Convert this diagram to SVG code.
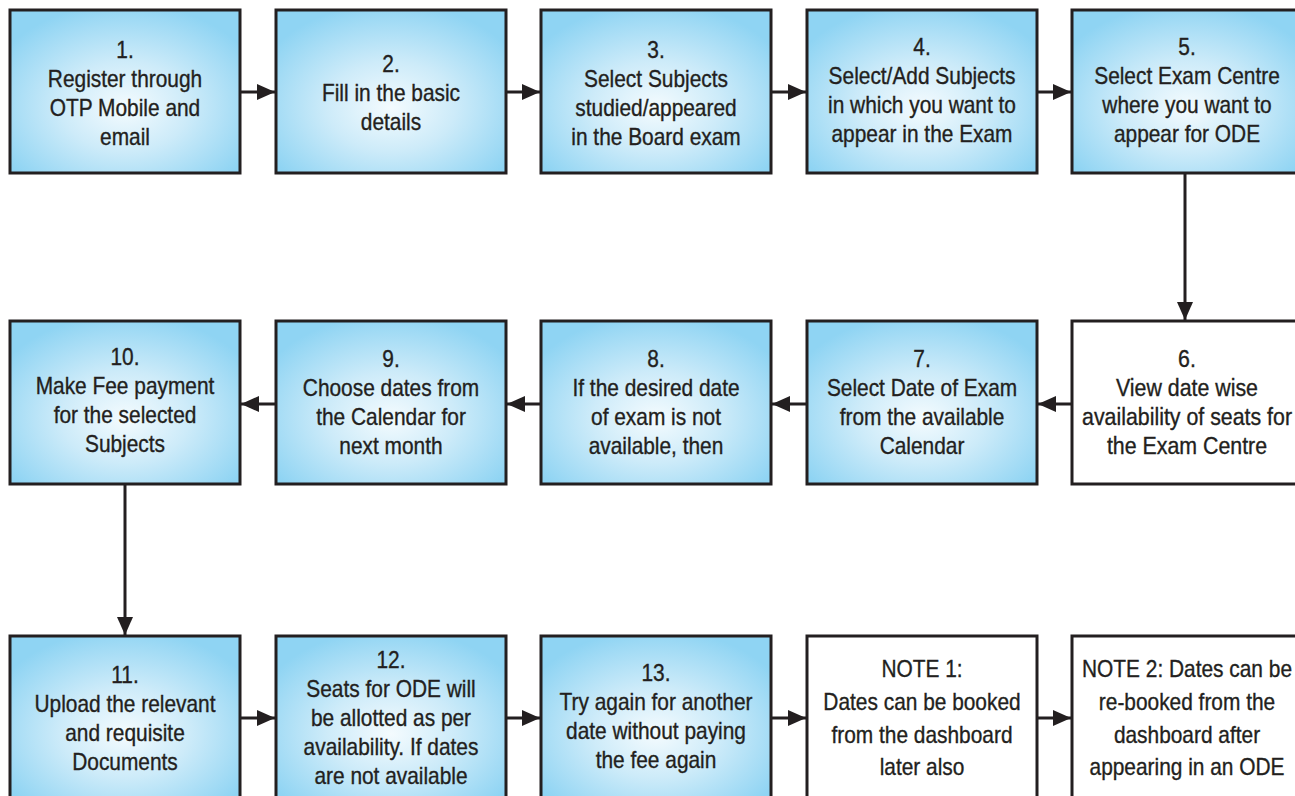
<svg xmlns="http://www.w3.org/2000/svg" width="1295" height="796" viewBox="0 0 1295 796">
  <defs>
    <radialGradient id="blue" cx="0.5" cy="0.58" r="0.62" fx="0.5" fy="0.6">
      <stop offset="0" stop-color="#f4fbfe"/>
      <stop offset="0.45" stop-color="#cdebf9"/>
      <stop offset="1" stop-color="#8fd4f3"/>
    </radialGradient>
    <marker id="ah" markerUnits="userSpaceOnUse" markerWidth="18" markerHeight="16" viewBox="0 0 18 16" refX="18" refY="8" orient="auto">
      <path d="M0,0 L18,8 L0,16 z" fill="#231f20"/>
    </marker>
  </defs>
  <style>
    .b { fill: url(#blue); stroke: #231f20; stroke-width: 3; }
    .w { fill: #ffffff; stroke: #231f20; stroke-width: 3; }
    text { font-family: "Liberation Sans", Arial, sans-serif; font-size: 24px; fill: #231f20; stroke: #231f20; stroke-width: 0.35; text-anchor: middle; }
    .c line { stroke: #231f20; stroke-width: 3; marker-end: url(#ah); }
  </style>
  <rect width="1295" height="796" fill="#ffffff"/>

  <g id="n1">
    <rect class="b" x="10" y="10" width="230" height="163"/>
    <g transform="translate(125,0) scale(0.87,1)"><text><tspan x="0" y="58">1.</tspan><tspan x="0" y="87">Register through</tspan><tspan x="0" y="116">OTP Mobile and</tspan><tspan x="0" y="145">email</tspan></text></g>
  </g>
  <g id="n2">
    <rect class="b" x="276" y="10" width="230" height="163"/>
    <g transform="translate(391,0) scale(0.87,1)"><text><tspan x="0" y="72">2.</tspan><tspan x="0" y="101">Fill in the basic</tspan><tspan x="0" y="130">details</tspan></text></g>
  </g>
  <g id="n3">
    <rect class="b" x="541" y="10" width="230" height="163"/>
    <g transform="translate(656,0) scale(0.87,1)"><text><tspan x="0" y="58">3.</tspan><tspan x="0" y="87">Select Subjects</tspan><tspan x="0" y="116">studied/appeared</tspan><tspan x="0" y="145">in the Board exam</tspan></text></g>
  </g>
  <g id="n4">
    <rect class="b" x="807" y="10" width="230" height="163"/>
    <g transform="translate(922,0) scale(0.87,1)"><text><tspan x="0" y="55">4.</tspan><tspan x="0" y="84">Select/Add Subjects</tspan><tspan x="0" y="113">in which you want to</tspan><tspan x="0" y="142">appear in the Exam</tspan></text></g>
  </g>
  <g id="n5">
    <rect class="b" x="1072" y="10" width="230" height="163"/>
    <g transform="translate(1187,0) scale(0.87,1)"><text><tspan x="0" y="55">5.</tspan><tspan x="0" y="84">Select Exam Centre</tspan><tspan x="0" y="113">where you want to</tspan><tspan x="0" y="142">appear for ODE</tspan></text></g>
  </g>

  <g id="n6">
    <rect class="w" x="1072" y="321" width="230" height="163"/>
    <g transform="translate(1187,0) scale(0.89,1)"><text><tspan x="0" y="367">6.</tspan><tspan x="0" y="396">View date wise</tspan><tspan x="0" y="425">availability of seats for</tspan><tspan x="0" y="454">the Exam Centre</tspan></text></g>
  </g>
  <g id="n7">
    <rect class="b" x="807" y="321" width="230" height="163"/>
    <g transform="translate(922,0) scale(0.87,1)"><text><tspan x="0" y="367">7.</tspan><tspan x="0" y="396">Select Date of Exam</tspan><tspan x="0" y="425">from the available</tspan><tspan x="0" y="454">Calendar</tspan></text></g>
  </g>
  <g id="n8">
    <rect class="b" x="541" y="321" width="230" height="163"/>
    <g transform="translate(656,0) scale(0.87,1)"><text><tspan x="0" y="367">8.</tspan><tspan x="0" y="396">If the desired date</tspan><tspan x="0" y="425">of exam is not</tspan><tspan x="0" y="454">available, then</tspan></text></g>
  </g>
  <g id="n9">
    <rect class="b" x="276" y="321" width="230" height="163"/>
    <g transform="translate(391,0) scale(0.87,1)"><text><tspan x="0" y="367">9.</tspan><tspan x="0" y="396">Choose dates from</tspan><tspan x="0" y="425">the Calendar for</tspan><tspan x="0" y="454">next month</tspan></text></g>
  </g>
  <g id="n10">
    <rect class="b" x="10" y="321" width="230" height="163"/>
    <g transform="translate(125,0) scale(0.87,1)"><text><tspan x="0" y="365">10.</tspan><tspan x="0" y="394">Make Fee payment</tspan><tspan x="0" y="423">for the selected</tspan><tspan x="0" y="452">Subjects</tspan></text></g>
  </g>

  <g id="n11">
    <rect class="b" x="10" y="636" width="230" height="163"/>
    <g transform="translate(125,0) scale(0.87,1)"><text><tspan x="0" y="683">11.</tspan><tspan x="0" y="712">Upload the relevant</tspan><tspan x="0" y="741">and requisite</tspan><tspan x="0" y="770">Documents</tspan></text></g>
  </g>
  <g id="n12">
    <rect class="b" x="276" y="636" width="230" height="163"/>
    <g transform="translate(391,0) scale(0.87,1)"><text><tspan x="0" y="668">12.</tspan><tspan x="0" y="697">Seats for ODE will</tspan><tspan x="0" y="726">be allotted as per</tspan><tspan x="0" y="755">availability. If dates</tspan><tspan x="0" y="784">are not available</tspan></text></g>
  </g>
  <g id="n13">
    <rect class="b" x="541" y="636" width="230" height="163"/>
    <g transform="translate(656,0) scale(0.87,1)"><text><tspan x="0" y="681">13.</tspan><tspan x="0" y="710">Try again for another</tspan><tspan x="0" y="739">date without paying</tspan><tspan x="0" y="768">the fee again</tspan></text></g>
  </g>
  <g id="note1">
    <rect class="w" x="807" y="636" width="230" height="163"/>
    <g transform="translate(922,0) scale(0.87,1)"><text><tspan x="0" y="677">NOTE 1:</tspan><tspan x="0" y="710">Dates can be booked</tspan><tspan x="0" y="743">from the dashboard</tspan><tspan x="0" y="775">later also</tspan></text></g>
  </g>
  <g id="note2">
    <rect class="w" x="1072" y="636" width="230" height="163"/>
    <g transform="translate(1187,0) scale(0.87,1)"><text><tspan x="0" y="677">NOTE 2: Dates can be</tspan><tspan x="0" y="710">re-booked from the</tspan><tspan x="0" y="743">dashboard after</tspan><tspan x="0" y="775">appearing in an ODE</tspan></text></g>
  </g>

  <g id="connectors" class="c">
    <line x1="241" y1="92" x2="275" y2="92"/>
    <line x1="507" y1="92" x2="540" y2="92"/>
    <line x1="772" y1="92" x2="806" y2="92"/>
    <line x1="1038" y1="92" x2="1071" y2="92"/>
    <line x1="1185" y1="174" x2="1185" y2="320"/>
    <line x1="1071" y1="404" x2="1038" y2="404"/>
    <line x1="806" y1="404" x2="772" y2="404"/>
    <line x1="540" y1="404" x2="507" y2="404"/>
    <line x1="275" y1="404" x2="241" y2="404"/>
    <line x1="125" y1="485" x2="125" y2="635"/>
    <line x1="241" y1="718" x2="275" y2="718"/>
    <line x1="507" y1="718" x2="540" y2="718"/>
    <line x1="772" y1="718" x2="806" y2="718"/>
    <line x1="1038" y1="718" x2="1071" y2="718"/>
  </g>
</svg>
